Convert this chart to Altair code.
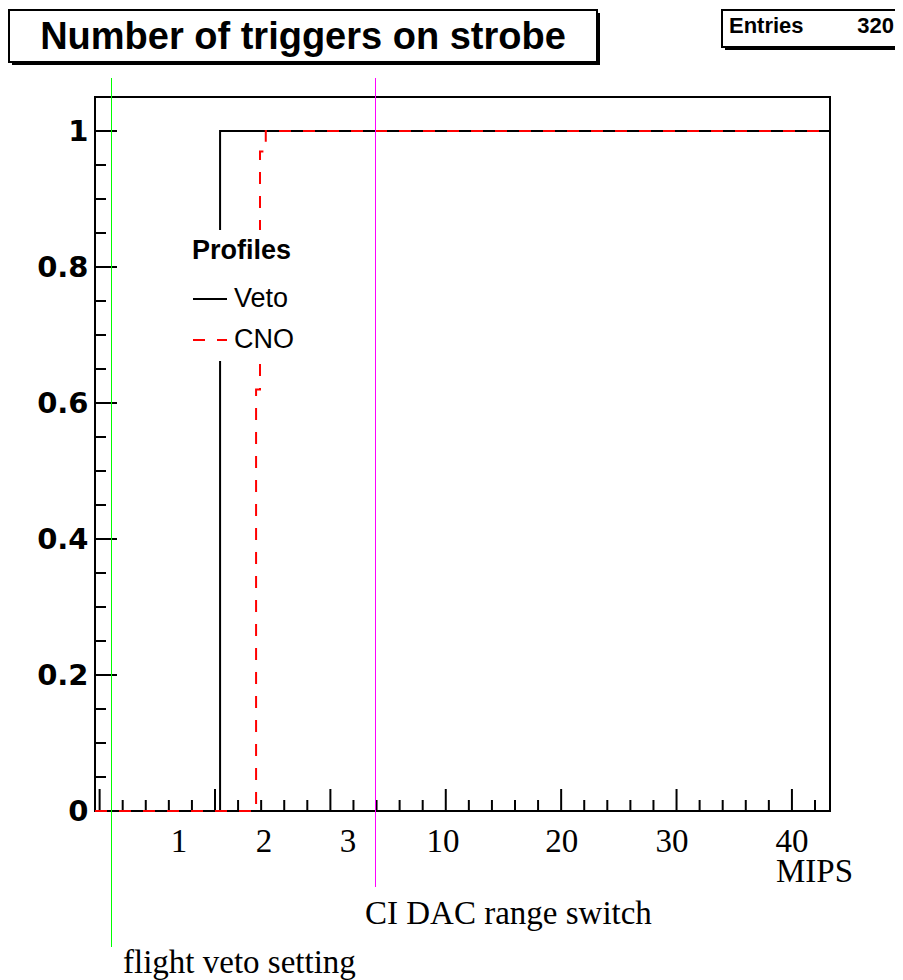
import altair as alt
import pandas as pd

# ---------------- data ----------------
series_names = ["Veto", "CNO"]
series_colors = ["#000000", "#ff0000"]

veto_x = [-0.2, 5.22, 31.65]
veto_y = [0.0, 1.0, 1.0]

cno_x = [-0.2, 6.78, 6.95, 7.2, 31.65]
cno_y = [0.0, 0.62, 0.97, 1.0, 1.0]

y_major = [0.0, 0.2, 0.4, 0.6, 0.8, 1.0]
y_minor = [0.05, 0.1, 0.15, 0.25, 0.3, 0.35, 0.45, 0.5, 0.55,
           0.65, 0.7, 0.75, 0.85, 0.9, 0.95]

x_major = [0, 5, 10, 15, 20, 25, 30]
x_minor = [1, 2, 3, 4, 6, 7, 8, 9, 11, 12, 13, 14, 16, 17, 18, 19,
           21, 22, 23, 24, 26, 27, 28, 29, 31]

x_labels = ["1", "2", "3", "10", "20", "30", "40"]
x_label_pos = [3.44, 7.12, 10.76, 14.88, 20.03, 24.8, 30.0]

marker_names = ["flight veto setting", "CI DAC range switch"]
marker_pos = [0.515, 11.955]
marker_colors = ["#00ff00", "#ff00ff"]

entries = 320
title_text = "Number of triggers on strobe"

# ---------------- scales ----------------
xs = alt.Scale(domain=[-0.2, 31.65], nice=False, zero=False)
ys = alt.Scale(domain=[0, 1.05], nice=False, zero=False)

yaxis = alt.Axis(title=None, values=y_major, format="~g", ticks=False, tickSize=0,
                 domain=False, grid=False, labelFont="DejaVu Sans",
                 labelFontWeight="bold", labelFontSize=29, labelPadding=7,
                 labelColor="black")

leg = alt.Legend(title="Profiles", orient="none", legendX=89, legendY=133,
                 direction="vertical", fillColor="white", padding=8,
                 titleFont="Liberation Sans", titleFontSize=27, titleFontWeight="bold",
                 titleColor="black", titlePadding=16,
                 labelFont="Liberation Sans", labelFontSize=27, labelColor="black",
                 labelOffset=6, symbolType="stroke", symbolSize=1156,
                 symbolStrokeWidth=2, rowPadding=10)

color = alt.Color("series:N", scale=alt.Scale(domain=series_names, range=series_colors), legend=leg)
dash = alt.StrokeDash("series:N", scale=alt.Scale(domain=series_names, range=[[1, 0], [12, 12]]), legend=leg)

one = pd.DataFrame({"a": [0]})

# ---------------- layers ----------------
veto_df = pd.DataFrame({"x": veto_x, "y": veto_y, "series": series_names[0]})
cno_df = pd.DataFrame({"x": cno_x, "y": cno_y, "series": series_names[1]})

line_veto = alt.Chart(veto_df).mark_line(interpolate="step-after", strokeWidth=2).encode(
    x=alt.X("x:Q", scale=xs, axis=None),
    y=alt.Y("y:Q", scale=ys, axis=yaxis),
    color=color, strokeDash=dash)
line_cno = alt.Chart(cno_df).mark_line(interpolate="step-after", strokeWidth=2).encode(
    x=alt.X("x:Q", scale=xs, axis=None),
    y=alt.Y("y:Q", scale=ys, axis=yaxis),
    color=color, strokeDash=dash)

ytick_major = alt.Chart(pd.DataFrame({"y": y_major})).mark_rule(color="black", strokeWidth=2).encode(
    y=alt.Y("y:Q", scale=ys, axis=yaxis), x=alt.value(0), x2=alt.value(22))
ytick_minor = alt.Chart(pd.DataFrame({"y": y_minor})).mark_rule(color="black", strokeWidth=2).encode(
    y=alt.Y("y:Q", scale=ys, axis=yaxis), x=alt.value(0), x2=alt.value(11))
xtick_major = alt.Chart(pd.DataFrame({"x": x_major})).mark_rule(color="black", strokeWidth=2).encode(
    x=alt.X("x:Q", scale=xs, axis=None), y=alt.value(714), y2=alt.value(692))
xtick_minor = alt.Chart(pd.DataFrame({"x": x_minor})).mark_rule(color="black", strokeWidth=2).encode(
    x=alt.X("x:Q", scale=xs, axis=None), y=alt.value(714), y2=alt.value(703))

xlab = alt.Chart(pd.DataFrame({"x": x_label_pos, "t": x_labels})).mark_text(
    font="Liberation Serif", fontSize=33, align="center", baseline="alphabetic", color="black").encode(
    x=alt.X("x:Q", scale=xs, axis=None), y=alt.value(755), text="t:N")

mips = alt.Chart(one).mark_text(font="Liberation Serif", fontSize=33, align="left",
                                baseline="alphabetic", color="black", text="MIPS").encode(
    x=alt.value(681), y=alt.value(785))

mk_df = pd.DataFrame({"x": marker_pos, "name": marker_names})
green = alt.Chart(mk_df.iloc[[0]]).mark_rule(strokeWidth=1, color=marker_colors[0]).encode(
    x=alt.X("x:Q", scale=xs, axis=None), y=alt.value(-19), y2=alt.value(850))
magenta = alt.Chart(mk_df.iloc[[1]]).mark_rule(strokeWidth=1, color=marker_colors[1]).encode(
    x=alt.X("x:Q", scale=xs, axis=None), y=alt.value(-19), y2=alt.value(790))
green_t = alt.Chart(one).mark_text(font="Liberation Serif", fontSize=33, align="left",
                                   baseline="alphabetic", color="black", text=marker_names[0]).encode(
    x=alt.value(28), y=alt.value(876))
magenta_t = alt.Chart(one).mark_text(font="Liberation Serif", fontSize=33, align="left",
                                     baseline="alphabetic", color="black", text=marker_names[1]).encode(
    x=alt.value(270), y=alt.value(827))

# title pave
t_shadow = alt.Chart(one).mark_rect(color="black").encode(
    x=alt.value(-83), x2=alt.value(505), y=alt.value(-84), y2=alt.value(-32))
t_box = alt.Chart(one).mark_rect(fill="white", stroke="black", strokeWidth=2).encode(
    x=alt.value(-86), x2=alt.value(502), y=alt.value(-87), y2=alt.value(-35))
t_text = alt.Chart(one).mark_text(font="Liberation Sans", fontWeight="bold", fontSize=38,
                                  align="center", baseline="alphabetic", color="black",
                                  text=title_text).encode(
    x=alt.value(208), y=alt.value(-48))

# stats pave
s_shadow = alt.Chart(one).mark_rect(color="black").encode(
    x=alt.value(630), x2=alt.value(840), y=alt.value(-84), y2=alt.value(-47))
s_box = alt.Chart(one).mark_rect(fill="white", stroke="black", strokeWidth=2).encode(
    x=alt.value(627), x2=alt.value(837), y=alt.value(-87), y2=alt.value(-50))
s_lab = alt.Chart(one).mark_text(font="Liberation Sans", fontWeight="bold", fontSize=22,
                                 align="left", baseline="alphabetic", color="black",
                                 text="Entries").encode(x=alt.value(634), y=alt.value(-64))
s_val = alt.Chart(one).mark_text(font="Liberation Sans", fontWeight="bold", fontSize=22,
                                 align="right", baseline="alphabetic", color="black",
                                 text=str(entries)).encode(x=alt.value(799), y=alt.value(-64))

chart = alt.layer(
    ytick_minor, ytick_major, xtick_minor, xtick_major,
    line_veto, line_cno,
    green, magenta,
    xlab, mips, green_t, magenta_t,
    t_shadow, t_box, t_text,
    s_shadow, s_box, s_lab, s_val,
).properties(
    width=735, height=714,
    autosize=alt.AutoSizeParams(type="none"),
    padding={"left": 87, "top": 89, "right": 65, "bottom": 169},
    background="white",
).configure_view(stroke="black", strokeWidth=2)

chart.save("out.html", embed_options={"renderer": "svg", "actions": False})
